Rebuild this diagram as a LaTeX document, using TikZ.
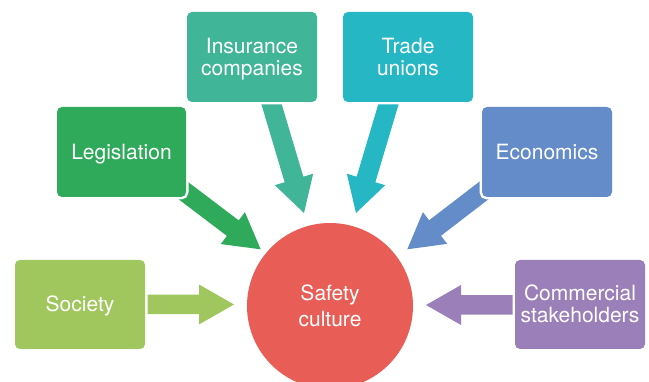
\documentclass[tikz,border=0pt]{standalone}
\usepackage{fontspec}
\setmainfont{TeX Gyre Heros}
\usetikzlibrary{calc}
\definecolor{cSoc}{RGB}{160,198,94}
\definecolor{cLeg}{RGB}{46,170,90}
\definecolor{cIns}{RGB}{64,181,151}
\definecolor{cTra}{RGB}{38,183,197}
\definecolor{cEco}{RGB}{100,140,200}
\definecolor{cCom}{RGB}{155,127,184}
\definecolor{cCir}{RGB}{232,93,85}
% block arrow: colour, start coordinate, tip coordinate
\newcommand\blockarrow[3]{%
  \path ($(#3)!35pt!(#2)$) coordinate (bahd);
  \fill[#1] ($(#2)!9.75pt!90:(#3)$) -- ($(bahd)!9.75pt!90:(#3)$)
    -- ($(bahd)!20pt!90:(#3)$) -- (#3) -- ($(bahd)!20pt!-90:(#3)$)
    -- ($(bahd)!9.75pt!-90:(#3)$) -- ($(#2)!9.75pt!-90:(#3)$) -- cycle;
}
\begin{document}
\begin{tikzpicture}[x=1pt,y=-1pt,
  box/.style={rounded corners=5pt, minimum width=130pt, minimum height=90pt,
    inner sep=0pt, align=center, text=white, font=\fontsize{21}{22}\selectfont,
    preaction={draw=white, line width=5pt}},
  oneline/.style={text height=15pt, text depth=0pt},
  twoline/.style={text height=37pt, text depth=0pt}]
\useasboundingbox (0,0) rectangle (649,382);
% arrow end points
\coordinate (socS) at (147,304.5);   \coordinate (socT) at (234,304.5);
\coordinate (comS) at (520,305);     \coordinate (comT) at (426,305);
\coordinate (legS) at (173,182.8);   \coordinate (legT) at (260.7,249.3);
\coordinate (ecoS) at (494.6,182.3); \coordinate (ecoT) at (407.3,249.3);
\coordinate (insS) at (268.3,93.4);  \coordinate (insT) at (304,213);
\coordinate (traS) at (391.7,93.4);  \coordinate (traT) at (356,213);
% arrows
\blockarrow{cSoc}{socS}{socT}
\blockarrow{cCom}{comS}{comT}
\blockarrow{cLeg}{legS}{legT}
\blockarrow{cEco}{ecoS}{ecoT}
\blockarrow{cIns}{insS}{insT}
\blockarrow{cTra}{traS}{traT}
% boxes
\node[box, oneline, fill=cSoc, minimum height=89pt] (soc) at (80,304.5) {Society};
\node[box, oneline, fill=cLeg, minimum width=129pt] (leg) at (121.5,152) {Legislation};
\node[box, twoline, fill=cIns] (ins) at (252,57) {Insurance\\companies};
\node[box, twoline, fill=cTra] (tra) at (408,57) {Trade\\unions};
\node[box, oneline, fill=cEco] (eco) at (547,152) {Economics};
\node[box, twoline, fill=cCom, minimum height=89pt] (com) at (580,304.5) {Commercial\\stakeholders};
% centre
\node[circle, fill=cCir, minimum size=166pt, inner sep=0pt, align=center,
  text=white, font=\fontsize{21}{25.7}\selectfont, text height=40.7pt,
  text depth=0pt] (sc) at (330,306) {Safety\\culture};
\end{tikzpicture}
\end{document}
